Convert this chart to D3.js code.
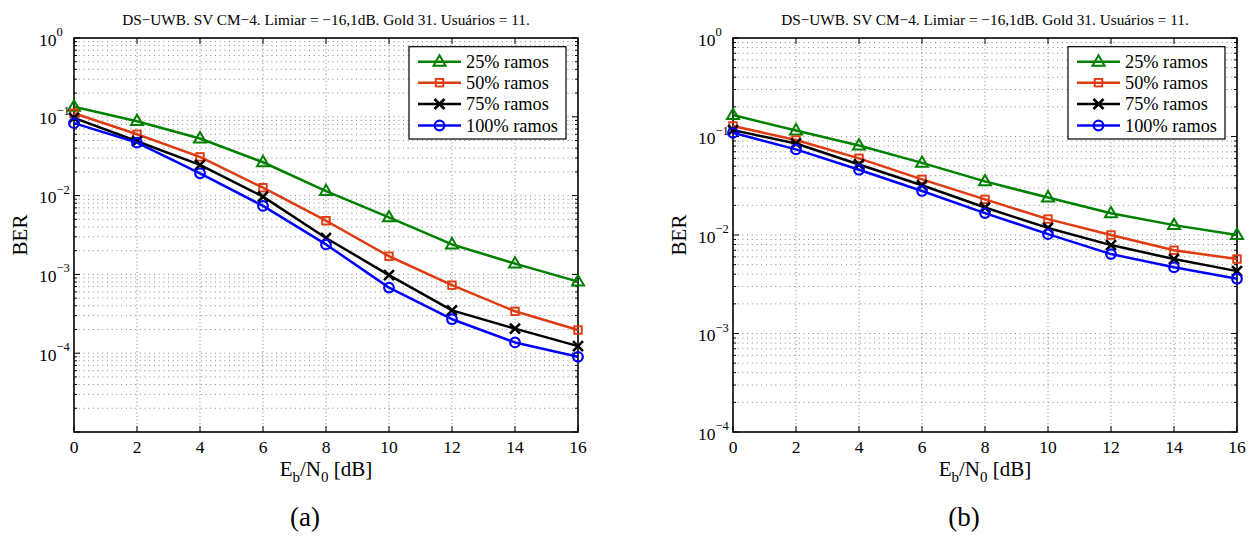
<!DOCTYPE html>
<html>
<head>
<meta charset="utf-8">
<script src="https://cdn.jsdelivr.net/npm/d3@7/dist/d3.min.js"></script>
<style>
  html, body { margin: 0; padding: 0; background: #fff; }
  svg { display: block; }
  text { font-family: "Liberation Serif", "Times New Roman", Times, "DejaVu Serif", serif; }
</style>
</head>
<body>
<svg id="fig" width="1254" height="536" font-family="Liberation Serif, Times New Roman, serif"></svg>
<script>
// Eb/N0 points (dB)
const ebn0 = [0, 2, 4, 6, 8, 10, 12, 14, 16];
const seriesNames = ["25% ramos", "50% ramos", "75% ramos", "100% ramos"];
const xTickLabels = ["0", "2", "4", "6", "8", "10", "12", "14", "16"];
const titleText = "DS\u2212UWB. SV CM\u22124. Limiar = \u221216,1dB. Gold 31. Usu\u00e1rios = 11.";

// Panel (a) BER values
const berA25  = [0.134, 0.088, 0.053, 0.0265, 0.0114, 0.0053, 0.0024, 0.00137, 0.00081];
const berA50  = [0.111, 0.060, 0.031, 0.0126, 0.0048, 0.0017, 0.00073, 0.00034, 0.000197];
const berA75  = [0.097, 0.049, 0.0245, 0.0097, 0.0029, 0.00098, 0.00035, 0.000205, 0.000123];
const berA100 = [0.083, 0.047, 0.0192, 0.0074, 0.0024, 0.00068, 0.00027, 0.000137, 0.00009];

// Panel (b) BER values
const berB25  = [0.165, 0.115, 0.081, 0.054, 0.035, 0.024, 0.0166, 0.0126, 0.0100];
const berB50  = [0.128, 0.092, 0.060, 0.0367, 0.023, 0.0145, 0.0100, 0.0070, 0.0057];
const berB75  = [0.116, 0.085, 0.052, 0.032, 0.019, 0.0118, 0.0079, 0.0057, 0.0043];
const berB100 = [0.109, 0.074, 0.046, 0.028, 0.0167, 0.0102, 0.0064, 0.0047, 0.0036];

const yDecadesA = [0, -1, -2, -3, -4];
const yDecadesB = [0, -1, -2, -3, -4];

const colors = ["#008000", "#e03a10", "#000000", "#0000ff"];
const markers = ["triangle", "square", "cross", "circle"];
const serif = "Liberation Serif, Times New Roman, serif";

const svg = d3.select("#fig");

function drawMarker(g, type, x, y, color) {
  if (type === "triangle") {
    const s = 12, h = s * 0.866;
    g.append("path")
      .attr("d", `M${x},${y - h * 0.62}L${x + s / 2},${y + h * 0.38}L${x - s / 2},${y + h * 0.38}Z`)
      .attr("fill", "none").attr("stroke", color).attr("stroke-width", 2);
  } else if (type === "square") {
    const s = 7.5;
    g.append("rect").attr("x", x - s / 2).attr("y", y - s / 2)
      .attr("width", s).attr("height", s)
      .attr("fill", "none").attr("stroke", color).attr("stroke-width", 1.9);
  } else if (type === "cross") {
    const s = 5;
    g.append("path")
      .attr("d", `M${x - s},${y - s}L${x + s},${y + s}M${x - s},${y + s}L${x + s},${y - s}`)
      .attr("fill", "none").attr("stroke", color).attr("stroke-width", 2.6);
  } else {
    g.append("circle").attr("cx", x).attr("cy", y).attr("r", 4.8)
      .attr("fill", "none").attr("stroke", color).attr("stroke-width", 2.2);
  }
}

function drawPanel(opt) {
  const { left, right, top, bottom, yMinExp, decades, series, caption } = opt;
  const g = svg.append("g").attr("font-family", serif);
  const x = d3.scaleLinear().domain([0, 16]).range([left, right]);
  const y = d3.scaleLog().domain([Math.pow(10, yMinExp), 1]).range([bottom, top]);

  // grid: dotted horizontal lines at every 1..9 x 10^e, vertical at x ticks
  const gridG = g.append("g").attr("stroke", "#666").attr("stroke-width", 0.8);
  for (let e = yMinExp; e < 0; e++) {
    for (let k = 1; k <= 9; k++) {
      const v = k * Math.pow(10, e);
      if (v <= Math.pow(10, yMinExp)) continue;
      gridG.append("line")
        .attr("x1", left).attr("x2", right)
        .attr("y1", y(v)).attr("y2", y(v))
        .attr("stroke-dasharray", "1,3.7");
    }
  }
  ebn0.slice(1, -1).forEach(v => {
    gridG.append("line")
      .attr("x1", x(v)).attr("x2", x(v))
      .attr("y1", top).attr("y2", bottom)
      .attr("stroke-dasharray", "1,2.6");
  });

  // ticks (inside, on all four sides)
  const tickG = g.append("g").attr("stroke", "#000").attr("stroke-width", 1);
  for (let e = yMinExp; e <= 0; e++) {
    const v = Math.pow(10, e);
    tickG.append("line").attr("x1", left).attr("x2", left + 6).attr("y1", y(v)).attr("y2", y(v));
    tickG.append("line").attr("x1", right).attr("x2", right - 6).attr("y1", y(v)).attr("y2", y(v));
    if (e < 0) {
      for (let k = 2; k <= 9; k++) {
        const m = k * v;
        tickG.append("line").attr("x1", left).attr("x2", left + 3).attr("y1", y(m)).attr("y2", y(m));
        tickG.append("line").attr("x1", right).attr("x2", right - 3).attr("y1", y(m)).attr("y2", y(m));
      }
    }
  }
  ebn0.forEach(v => {
    tickG.append("line").attr("x1", x(v)).attr("x2", x(v)).attr("y1", bottom).attr("y2", bottom - 6);
    tickG.append("line").attr("x1", x(v)).attr("x2", x(v)).attr("y1", top).attr("y2", top + 6);
  });

  // axes box
  g.append("rect")
    .attr("x", left).attr("y", top)
    .attr("width", right - left).attr("height", bottom - top)
    .attr("fill", "none").attr("stroke", "#000").attr("stroke-width", 1.6);

  // x tick labels
  ebn0.forEach((v, i) => {
    g.append("text").attr("x", x(v)).attr("y", bottom + 21)
      .attr("text-anchor", "middle").attr("font-size", 17.5)
      .text(xTickLabels[i]);
  });

  // y tick labels 10^e
  decades.forEach(e => {
    const ty = y(Math.pow(10, e));
    const t = g.append("text").attr("x", left - 35).attr("y", ty + 7.5).attr("font-size", 17.5);
    t.append("tspan").text("10");
    t.append("tspan").attr("font-size", 12.5).attr("dy", -9.5)
      .text(e === 0 ? "0" : "\u2212" + Math.abs(e));
  });

  // series
  const line = d3.line().x((d, i) => x(ebn0[i])).y(d => y(d));
  series.forEach((s, si) => {
    const sg = g.append("g");
    sg.append("path").datum(s).attr("d", line)
      .attr("fill", "none").attr("stroke", colors[si])
      .attr("stroke-width", 2.5).attr("stroke-linejoin", "round");
    s.forEach((v, i) => drawMarker(sg, markers[si], x(ebn0[i]), y(v), colors[si]));
  });

  // legend
  const lx0 = right - 169, lx1 = right - 12, ly0 = 46.7, ly1 = 139;
  g.append("rect").attr("x", lx0).attr("y", ly0)
    .attr("width", lx1 - lx0).attr("height", ly1 - ly0)
    .attr("fill", "#fff").attr("stroke", "#000").attr("stroke-width", 1.2);
  const rowY = [61.7, 82.7, 104, 125.5];
  seriesNames.forEach((name, si) => {
    const yy = rowY[si];
    g.append("line").attr("x1", lx0 + 9).attr("x2", lx0 + 52)
      .attr("y1", yy).attr("y2", yy)
      .attr("stroke", colors[si]).attr("stroke-width", 2.5);
    drawMarker(g, markers[si], lx0 + 30.5, yy, colors[si]);
    g.append("text").attr("x", lx0 + 57).attr("y", yy + 6)
      .attr("font-size", 18.3).text(name);
  });

  // title
  const cx = (left + right) / 2;
  g.append("text").attr("x", cx).attr("y", 25)
    .attr("text-anchor", "middle").attr("font-size", 15.3)
    .text(titleText);

  // x label: Eb/N0 [dB]
  const xl = g.append("text").attr("x", cx).attr("y", bottom + 44)
    .attr("text-anchor", "middle").attr("font-size", 21);
  xl.append("tspan").text("E");
  xl.append("tspan").attr("font-size", 15).attr("dy", 6).text("b");
  xl.append("tspan").attr("dy", -6).text("/N");
  xl.append("tspan").attr("font-size", 15).attr("dy", 6).text("0");
  xl.append("tspan").attr("dy", -6).text(" [dB]");

  // y label
  g.append("text")
    .attr("transform", `translate(${left - 47},${(top + bottom) / 2}) rotate(-90)`)
    .attr("text-anchor", "middle").attr("font-size", 21)
    .text("BER");

  // sub-figure caption
  g.append("text").attr("x", left + 231).attr("y", 526)
    .attr("text-anchor", "middle").attr("font-size", 27)
    .text(caption);
}

drawPanel({
  left: 74, right: 578, top: 38, bottom: 432, yMinExp: -5,
  decades: yDecadesA,
  series: [berA25, berA50, berA75, berA100],
  caption: "(a)"
});

drawPanel({
  left: 733, right: 1237, top: 38, bottom: 432, yMinExp: -4,
  decades: yDecadesB,
  series: [berB25, berB50, berB75, berB100],
  caption: "(b)"
});
</script>
</body>
</html>
